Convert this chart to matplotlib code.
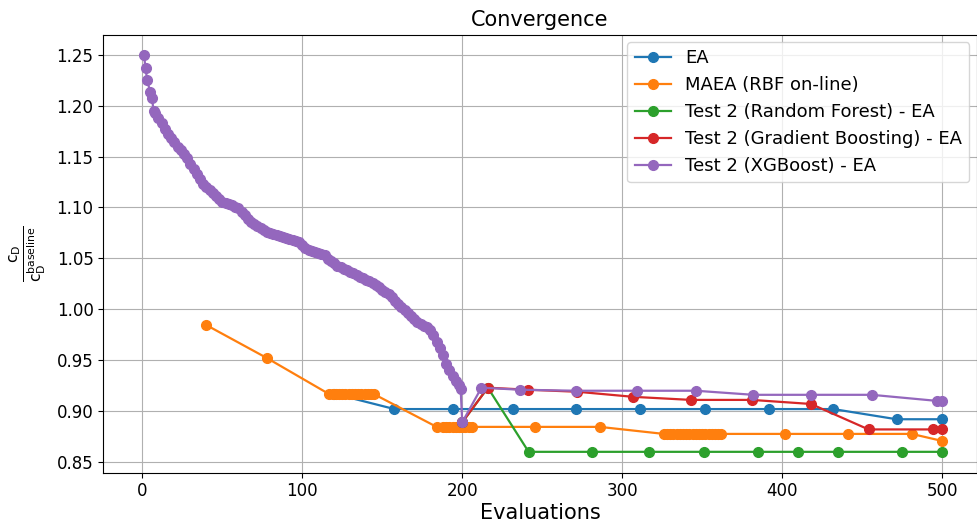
import matplotlib
matplotlib.use("Agg")
import matplotlib.pyplot as plt

# ---------------- data ----------------
ea_x = [120, 157.6, 194.5, 231.5, 271.3, 311.4, 351.6, 391.9, 432, 471.5, 500]
ea_y = [0.917, 0.902, 0.902, 0.902, 0.902, 0.902, 0.902, 0.902, 0.902, 0.892, 0.892]

maea_x = [40, 78,
          117, 119, 121, 123, 125, 127, 129, 131, 133, 135, 137, 139, 141, 143, 145,
          184, 188, 190, 192, 194, 196, 198, 200, 202, 204, 206,
          245.5, 286,
          326, 328, 330, 332, 334, 336, 338, 340, 342, 344, 346, 348, 350, 352, 354, 356, 358, 360, 362,
          402, 441.4, 481, 500]
maea_y = [0.9845, 0.952,
          0.9165, 0.9165, 0.9165, 0.9165, 0.9165, 0.9165, 0.9165, 0.9165, 0.9165, 0.9165, 0.9165, 0.9165, 0.9165, 0.9165, 0.9165,
          0.8845, 0.8845, 0.8845, 0.8845, 0.8845, 0.8845, 0.8845, 0.8845, 0.8845, 0.8845, 0.8845,
          0.8845, 0.8845,
          0.8776, 0.8776, 0.8776, 0.8776, 0.8776, 0.8776, 0.8776, 0.8776, 0.8776, 0.8776, 0.8776, 0.8776, 0.8776, 0.8776, 0.8776, 0.8776, 0.8776, 0.8776, 0.8776,
          0.8776, 0.8776, 0.8776, 0.8707]

rf_x = [200, 216, 241.5, 281, 317, 351, 385, 410, 435, 475, 500]
rf_y = [0.889, 0.923, 0.860, 0.860, 0.860, 0.860, 0.860, 0.860, 0.860, 0.860, 0.860]

gb_x = [200, 216, 241, 272, 307, 343, 381, 418, 454, 494, 500]
gb_y = [0.889, 0.923, 0.921, 0.919, 0.914, 0.911, 0.911, 0.907, 0.882, 0.882, 0.882]

xgb_x = [1, 2, 3, 5, 6, 7,
         8, 10, 12, 14, 16, 18, 20, 22, 24, 26, 28, 30, 32, 34, 36, 38, 40, 42, 44, 46, 48,
         50, 52, 54, 56, 58, 60, 62, 64, 66, 68, 70, 72, 74, 76, 78, 80, 82, 84, 86, 88, 90,
         92, 94, 96, 98, 100, 102, 104, 106, 108, 110, 112, 114, 116, 118, 120, 122, 124,
         126, 128, 130, 132, 134, 136, 138, 140, 142, 144, 146, 148, 150, 152, 154, 156,
         158, 160, 162, 164, 166, 168, 170, 172, 174, 176, 178, 180, 182, 184, 186, 188,
         190, 192, 194, 196, 198, 199, 200,
         212, 236, 271, 309, 346, 382, 418, 456, 497, 500]
xgb_y = [1.250, 1.237, 1.225, 1.213, 1.208, 1.195,
         1.193, 1.188, 1.183, 1.177, 1.172, 1.168, 1.164, 1.159, 1.156, 1.153, 1.149, 1.143,
         1.138, 1.133, 1.128, 1.123, 1.120, 1.117, 1.114, 1.111, 1.108,
         1.105, 1.104, 1.103, 1.102, 1.100, 1.099, 1.096, 1.093, 1.089, 1.086, 1.084, 1.082,
         1.080, 1.078, 1.076, 1.075, 1.074, 1.073, 1.072, 1.071, 1.070,
         1.069, 1.068, 1.067, 1.066, 1.063, 1.060, 1.058, 1.057, 1.056, 1.055, 1.054, 1.053,
         1.049, 1.047, 1.045, 1.043, 1.042,
         1.040, 1.039, 1.037, 1.036, 1.034, 1.032, 1.031, 1.029, 1.028, 1.026, 1.024, 1.022,
         1.019, 1.017, 1.015, 1.012,
         1.008, 1.005, 1.002, 0.999, 0.996, 0.993, 0.990, 0.988, 0.986, 0.984, 0.983, 0.980,
         0.975, 0.968, 0.962, 0.955,
         0.946, 0.940, 0.934, 0.930, 0.926, 0.922, 0.889,
         0.923, 0.921, 0.920, 0.920, 0.920, 0.916, 0.916, 0.916, 0.910, 0.910]

labels = ["EA", "MAEA (RBF on-line)", "Test 2 (Random Forest) - EA",
          "Test 2 (Gradient Boosting) - EA", "Test 2 (XGBoost) - EA"]
colors = ["#1f77b4", "#ff7f0e", "#2ca02c", "#d62728", "#9467bd"]

# ---------------- plot ----------------
W, H = 977, 526
fig = plt.figure(figsize=(W / 100, H / 100), dpi=100)
left, right, top, bottom = 103.3, 976.5, 34.7, 472.7
ax = fig.add_axes([left / W, 1 - bottom / H, (right - left) / W, (bottom - top) / H])

series = [(ea_x, ea_y), (maea_x, maea_y), (rf_x, rf_y), (gb_x, gb_y), (xgb_x, xgb_y)]
for (xs, ys), lab, c in zip(series, labels, colors):
    ax.plot(xs, ys, marker="o", markersize=7, linewidth=1.6, color=c, label=lab)

ax.set_xlim(-24.4, 521.5)
ax.set_ylim(0.8395, 1.2697)
ax.set_xticks([0, 100, 200, 300, 400, 500])
ax.set_yticks([0.85, 0.90, 0.95, 1.00, 1.05, 1.10, 1.15, 1.20, 1.25])
ax.grid(True)
ax.tick_params(labelsize=12)
ax.set_xlabel("Evaluations", fontsize=15, labelpad=2)
ax.set_ylabel(r"$\frac{\mathrm{c_D}}{\mathrm{c_D^{baseline}}}$", fontsize=16, labelpad=6)
ax.set_title("Convergence", fontsize=15, pad=6)
ax.legend(loc="upper right", fontsize=13, borderaxespad=0.4)

fig.savefig("out.png", dpi=100)
